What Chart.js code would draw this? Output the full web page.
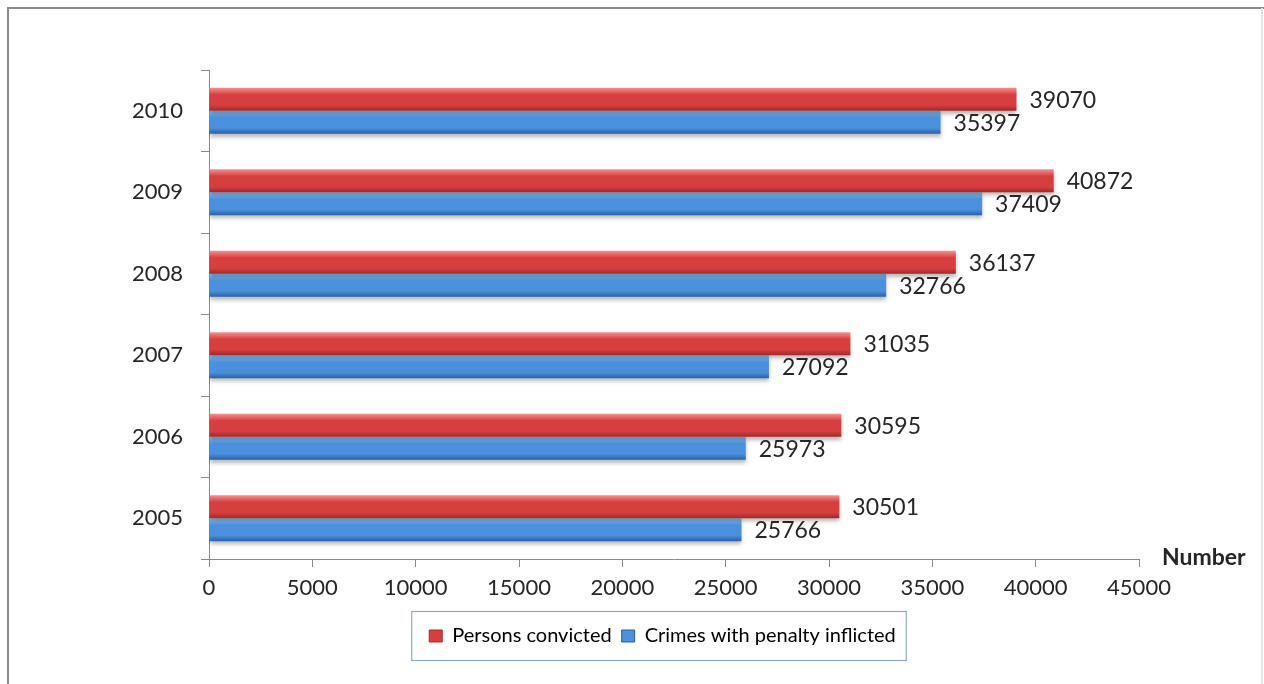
<!DOCTYPE html>
<html>
<head>
<meta charset="utf-8">
<title>Persons convicted and crimes with penalty inflicted</title>
<script src="https://cdn.jsdelivr.net/npm/chart.js@4/dist/chart.umd.min.js"></script>
<style>
  html, body { margin: 0; padding: 0; background: #fff; }
  #wrap { position: relative; width: 1264px; height: 684px; }
</style>
</head>
<body>
<div id="wrap"><canvas id="myChart"></canvas></div>
<script>
const years = ['2010', '2009', '2008', '2007', '2006', '2005']
const convicted = [39070, 40872, 36137, 31035, 30595, 30501]
const crimes = [35397, 37409, 32766, 27092, 25973, 25766]
const xTicks = [0, 5000, 10000, 15000, 20000, 25000, 30000, 35000, 40000, 45000]

const FONT = 'Lato, "Open Sans", sans-serif'
const TEXT = '#262626'
const AXIS = '#8a8a8a'

// light / mid / dark stops used for the glossy bars
const shades = {
  red: ['#f69292', '#d73f3f', '#a02a2a'],
  blue: ['#8cc8ff', '#4a90dd', '#2b5fa5']
}

const glossy = (ctx, top, bottom, s) => {
  const g = ctx.createLinearGradient(0, top, 0, bottom)
  g.addColorStop(0, s[0])
  g.addColorStop(0.3, s[1])
  g.addColorStop(0.75, s[1])
  g.addColorStop(1, s[2])
  return g
}

const barStyle = {
  id: 'barStyle',
  beforeDraw (chart) {
    const ctx = chart.ctx
    ctx.save()
    ctx.strokeStyle = '#8c8c8c'
    ctx.lineWidth = 2
    ctx.beginPath()
    ctx.moveTo(8, 690)
    ctx.lineTo(8, 8)
    ctx.lineTo(1264, 8)
    ctx.stroke()
    ctx.strokeStyle = '#e4e4e4'
    ctx.beginPath()
    ctx.moveTo(1262, 8)
    ctx.lineTo(1262, 684)
    ctx.stroke()
    ctx.restore()
  },
  beforeDatasetsDraw (chart) {
    chart.data.datasets.forEach((ds, i) => {
      chart.getDatasetMeta(i).data.forEach(bar => {
        const top = bar.y - bar.height / 2
        const bottom = bar.y + bar.height / 2
        bar.options = Object.assign({}, bar.options, {
          backgroundColor: glossy(chart.ctx, top, bottom, shades[ds.shade])
        })
      })
    })
    const ctx = chart.ctx
    ctx.save()
    ctx.shadowColor = 'rgba(0, 0, 0, 0.28)'
    ctx.shadowBlur = 4
    ctx.shadowOffsetY = 3
  },
  afterDatasetsDraw (chart) {
    const ctx = chart.ctx
    ctx.restore()
    ctx.save()
    ctx.font = '23px ' + FONT
    ctx.fillStyle = TEXT
    ctx.textAlign = 'left'
    ctx.textBaseline = 'middle'
    chart.data.datasets.forEach((ds, i) => {
      chart.getDatasetMeta(i).data.forEach((bar, j) => {
        ctx.fillText(String(ds.data[j]), bar.x + 13, bar.y + 1)
      })
    })
    // axis unit
    const x = chart.scales.x
    ctx.font = 'bold 23px ' + FONT
    ctx.fillText('Number', x.right + 23, x.top - 1)
    ctx.restore()
  },
  afterLayout (chart) {
    // centre the legend under the plot like the original
    const lg = chart.legend
    lg.left += 93
    lg.right += 93
    lg.top += 5
    lg.bottom += 5
  },
  afterDraw (chart) {
    const lg = chart.legend
    const boxes = lg.legendHitBoxes
    if (!boxes || !boxes.length) return
    const l = Math.min(...boxes.map(b => b.left)) - 18
    const r = Math.max(...boxes.map(b => b.left + b.width)) + 10
    const ctx = chart.ctx
    ctx.save()
    ctx.strokeStyle = '#8fa8c8'
    ctx.lineWidth = 1.2
    ctx.strokeRect(l + 0.5, lg.top - 4.5, r - l, 49)
    ctx.restore()
  }
}

new Chart(document.getElementById('myChart'), {
  type: 'bar',
  data: {
    labels: years,
    datasets: [
      {
        label: 'Persons convicted',
        data: convicted,
        shade: 'red',
        backgroundColor: '#d73f3f',
        borderWidth: 0
      },
      {
        label: 'Crimes with penalty inflicted',
        data: crimes,
        shade: 'blue',
        backgroundColor: '#4a90dd',
        borderWidth: 0
      }
    ]
  },
  options: {
    indexAxis: 'y',
    responsive: true,
    maintainAspectRatio: false,
    animation: false,
    categoryPercentage: 0.565,
    barPercentage: 1,
    layout: {
      padding: { left: 0, right: 125, top: 70, bottom: 33 }
    },
    plugins: {
      tooltip: { enabled: false },
      legend: {
        position: 'bottom',
        labels: {
          color: TEXT,
          font: { family: FONT, size: 20 },
          boxWidth: 13,
          boxHeight: 12,
          padding: 10,
          generateLabels (chart) {
            return chart.data.datasets.map((ds, i) => ({
              text: ds.label,
              fillStyle: shades[ds.shade][1],
              strokeStyle: shades[ds.shade][2],
              lineWidth: 1,
              datasetIndex: i,
              hidden: false
            }))
          }
        }
      }
    },
    scales: {
      x: {
        min: 0,
        max: 45000,
        afterFit (scale) { scale.height = 52 },
        afterBuildTicks (scale) { scale.ticks = xTicks.map(v => ({ value: v })) },
        border: { color: AXIS, width: 1 },
        grid: { drawOnChartArea: false, color: AXIS, tickLength: 8 },
        ticks: {
          color: TEXT,
          font: { family: FONT, size: 22 },
          padding: 8,
          maxRotation: 0,
          callback: v => String(v)
        }
      },
      y: {
        afterFit (scale) { scale.width = 209 },
        border: { color: AXIS, width: 1 },
        grid: { drawOnChartArea: false, color: AXIS, tickLength: 8, offset: true },
        ticks: {
          color: TEXT,
          font: { family: FONT, size: 22 },
          padding: 18
        }
      }
    }
  },
  plugins: [barStyle]
})
</script>
</body>
</html>
